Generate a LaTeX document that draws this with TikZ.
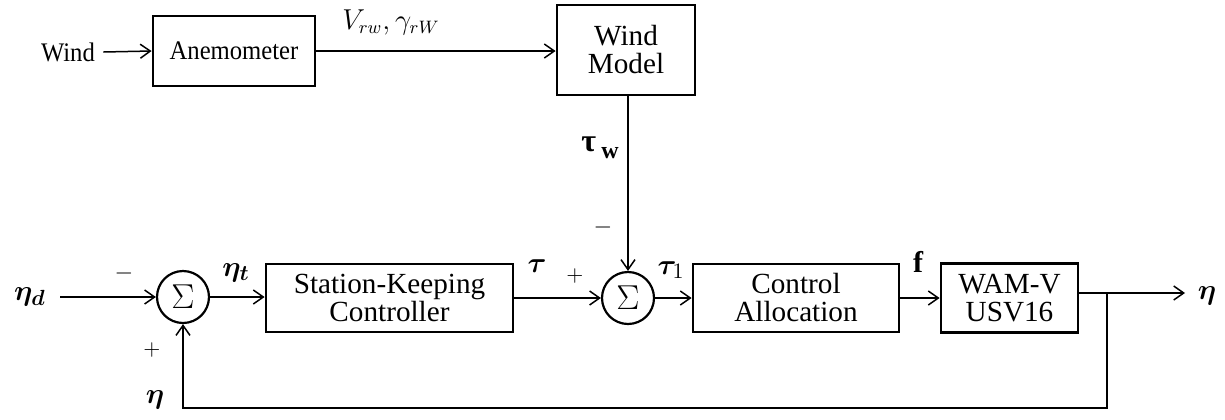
\documentclass[tikz,border=0pt]{standalone}
\usepackage{amsmath}
\usepackage{bm}
\usepackage{fontspec}
\setmainfont{Liberation Serif}
\usetikzlibrary{arrows.meta,calc}
\begin{document}
\begin{tikzpicture}[x=0.5pt,y=-0.5pt,
  font=\fontsize{14.6}{14}\selectfont,
  blk/.style={draw,line width=1.4pt,align=center,inner sep=0pt},
  sumnode/.style={draw,circle,line width=1.1pt,minimum size=26pt,inner sep=0pt,font=\fontsize{16}{18}\selectfont},
  arr/.style={line width=0.75pt,-{Straight Barb[length=5pt,width=7pt,line width=0.75pt]}},
  mlab/.style={font=\fontsize{15}{18}\selectfont,inner sep=0pt},
  sgn/.style={font=\fontsize{10.5}{13}\selectfont,inner sep=0pt},
  toptext/.style={font=\fontsize{13.4}{14}\selectfont}]
\useasboundingbox (0,0) rectangle (1225,419);
% blocks
\node[blk,minimum width=81pt,minimum height=35pt,toptext] (anem) at (234,51) {\scalebox{0.92}[1]{Anemometer}};
\node[blk,minimum width=69pt,minimum height=45pt] (wm) at (626,50) {Wind\\Model};
\node[blk,minimum width=123.5pt,minimum height=34pt] (skc) at (389.5,298) {Station-Keeping\\Controller};
\node[blk,minimum width=103pt,minimum height=34pt] (ca) at (796,298) {Control\\Allocation};
\node[blk,minimum width=68.5pt,minimum height=34.5pt] (wam) at (1009.5,298) {WAM-V\\USV16};
\node[sumnode] (s1) at (183,297) {$\Sigma$};
\node[sumnode] (s2) at (628,298) {$\Sigma$};
% texts
\node[inner sep=0pt,toptext] (wind) at (68,52) {\scalebox{0.92}[1]{Wind}};
\node[mlab,font=\fontsize{13.5}{16}\selectfont] (vlab) at (391,22) {$V_{rw},\gamma_{rW}$};
\node[inner sep=0pt] (twlab) at (600,148) {\fontsize{16}{18}\selectfont\bfseries τ\,\raisebox{-0.45ex}{\fontsize{12}{14}\selectfont w}};
\node[sgn,font=\fontsize{13}{14}\selectfont] (m2) at (603,227) {$-$};
\node[mlab] (etad) at (30,297) {$\bm{\eta_d}$};
\node[sgn,font=\fontsize{13}{14}\selectfont] (m1) at (124,273) {$-$};
\node[mlab] (etat) at (236,273) {$\bm{\eta_t}$};
\node[sgn] (p1) at (152,350) {$+$};
\node[mlab] (etab) at (155,400) {$\bm{\eta}$};
\node[mlab] (tau) at (537,266) {$\bm{\tau}$};
\node[sgn] (p2) at (575,276) {$+$};
\node[mlab] (tau1) at (671,270) {$\bm{\tau}_1$};
\node[mlab] (flab) at (918,262) {$\mathbf{f}$};
\node[mlab] (etao) at (1207,296) {$\bm{\eta}$};
% coordinates
\coordinate (etadend) at (60,297);
\coordinate (br) at (1107,293);
\coordinate (out) at (1185,293);
\coordinate (bot) at (0,408);
% connectors
\draw[arr] (wind.east) ++(4pt,0) coordinate (ws) -- (anem.west);
\draw[arr] (anem.east) -- (wm.west |- anem.east);
\draw[arr] (s2.north |- wm.south) -- (s2.north);
\draw[arr] (etadend) -- (s1.west);
\draw[arr] (s1.east) -- (skc.west |- s1.east);
\draw[arr] (skc.east) -- (s2.west);
\draw[arr] (s2.east) -- (ca.west);
\draw[arr] (ca.east) -- (wam.west);
\draw[arr] (wam.east |- out) -- (out);
\draw[arr] (br) -- (br |- bot) -- (s1.south |- bot) -- (s1.south);
\end{tikzpicture}
\end{document}
